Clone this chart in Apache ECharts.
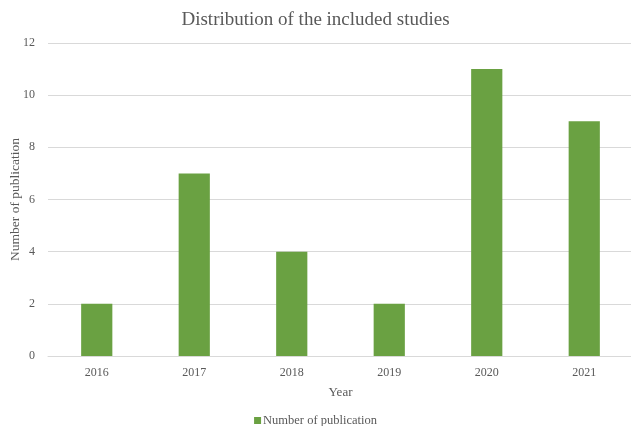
<!DOCTYPE html>
<html>
<head>
<meta charset="utf-8">
<script src="https://cdn.jsdelivr.net/npm/echarts@6/dist/echarts.min.js"></script>
<style>
  html, body { margin: 0; padding: 0; background: #fff; }
  #chart { width: 631px; height: 426px; }
</style>
</head>
<body>
<div id="chart"></div>
<script>
// data
var years = ['2016', '2017', '2018', '2019', '2020', '2021'];
var publications = [2, 7, 4, 2, 11, 9];
var seriesName = 'Number of publication';

var textColor = '#595959';
var serif = '"Liberation Serif", "DejaVu Serif", serif';

var chart = echarts.init(document.getElementById('chart'));

chart.setOption({
  animation: false,
  title: {
    text: 'Distribution of the included studies',
    left: 'center',
    top: 6,
    textStyle: { fontFamily: serif, fontSize: 19, fontWeight: 'normal', color: textColor }
  },
  legend: {
    top: 409,
    left: 'center',
    icon: 'rect',
    itemWidth: 7,
    itemHeight: 7,
    itemGap: 4,
    textStyle: { fontFamily: serif, fontSize: 12.5, color: textColor, padding: [0, 0, 0, -3] },
    data: [seriesName]
  },
  grid: { left: 48, right: -2, top: 43, bottom: 70, containLabel: false, outerBoundsMode: 'none' },
  xAxis: {
    type: 'category',
    data: years,
    name: 'Year',
    nameLocation: 'middle',
    nameGap: 30,
    nameMoveOverlap: false,
    nameTextStyle: { fontFamily: serif, fontSize: 13, color: textColor },
    axisLine: { lineStyle: { color: '#d9d9d9' } },
    axisTick: { show: false },
    axisLabel: { fontFamily: serif, fontSize: 12, color: textColor, margin: 11 }
  },
  yAxis: {
    type: 'value',
    min: 0,
    max: 12,
    interval: 2,
    name: 'Number of publication',
    nameLocation: 'middle',
    nameGap: 26,
    nameMoveOverlap: false,
    nameTextStyle: { fontFamily: serif, fontSize: 13.5, color: textColor },
    axisLine: { show: false },
    axisTick: { show: false },
    axisLabel: { fontFamily: serif, fontSize: 12, color: textColor, margin: 13 },
    splitLine: { lineStyle: { color: '#d9d9d9' } }
  },
  series: [{
    name: seriesName,
    type: 'bar',
    data: publications,
    barWidth: '32%',
    itemStyle: { color: '#6aa142' }
  }]
});
</script>
</body>
</html>
